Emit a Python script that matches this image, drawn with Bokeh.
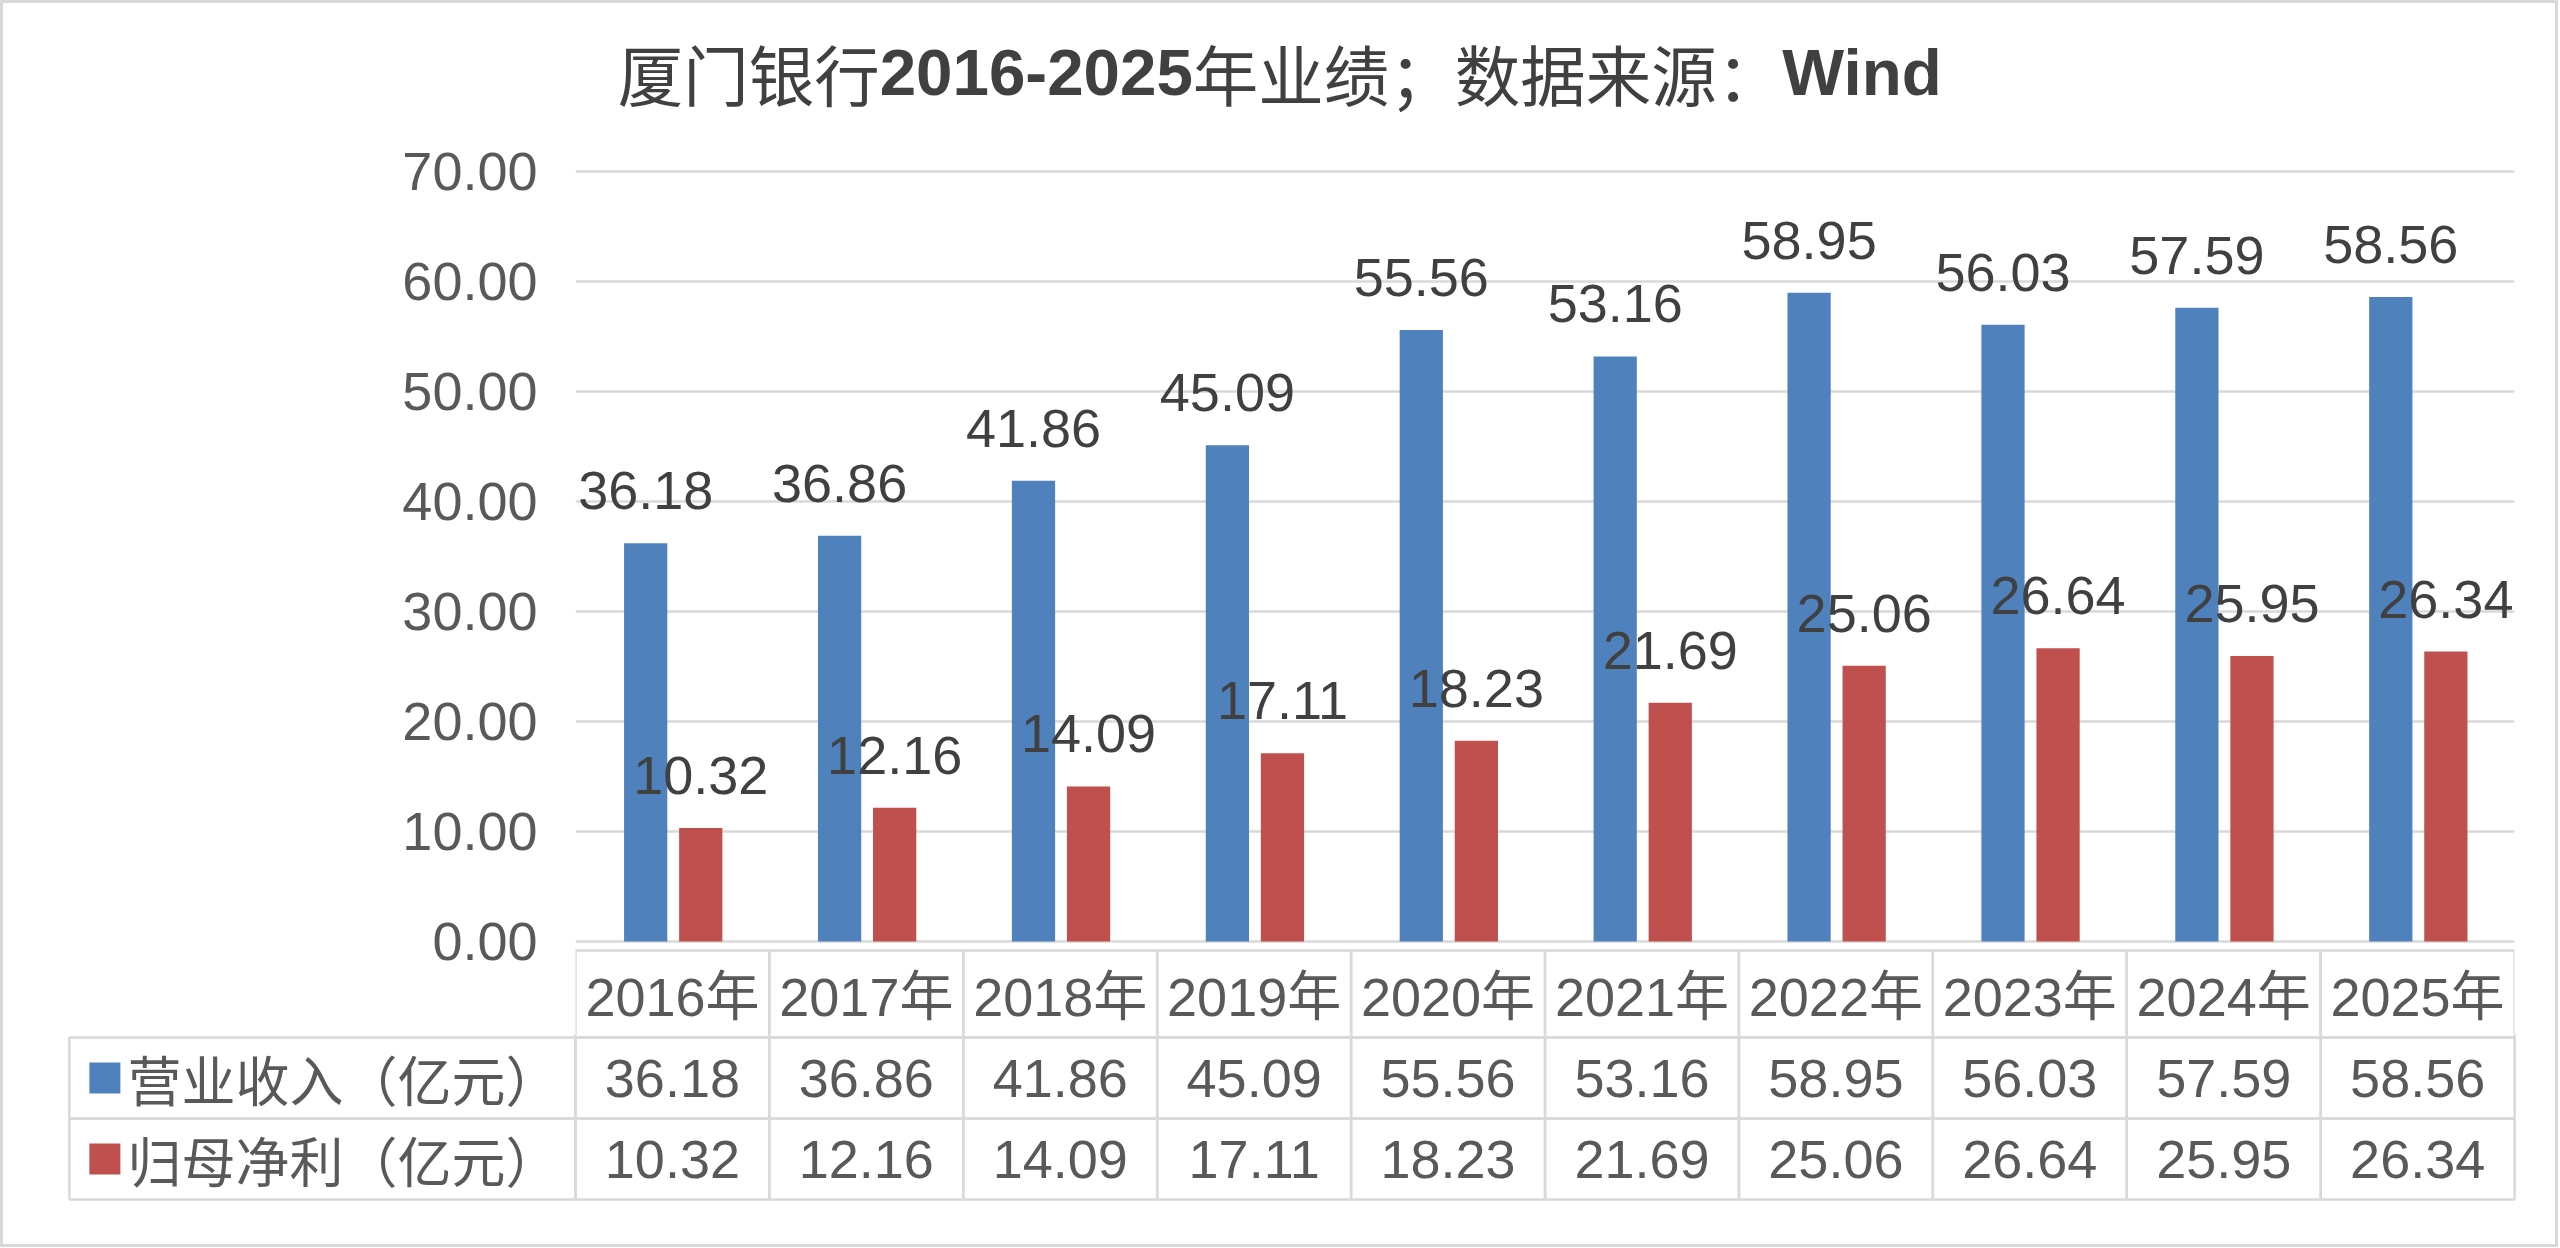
from bokeh.plotting import figure
from bokeh.models import Range1d, FactorRange, FixedTicker, PrintfTickFormatter, Label, ColumnDataSource
from bokeh.layouts import column
from bokeh.embed import file_html
from bokeh.resources import INLINE
from bokeh.core.properties import value
from bokeh.transform import dodge

# ---------------- data ----------------
years = ["2016年", "2017年", "2018年", "2019年", "2020年",
         "2021年", "2022年", "2023年", "2024年", "2025年"]
revenue = [36.18, 36.86, 41.86, 45.09, 55.56, 53.16, 58.95, 56.03, 57.59, 58.56]
profit = [10.32, 12.16, 14.09, 17.11, 18.23, 21.69, 25.06, 26.64, 25.95, 26.34]
series_names = ["营业收入（亿元）", "归母净利（亿元）"]
y_ticks = [0, 10, 20, 30, 40, 50, 60, 70]
title_parts = [("厦门银行", False), ("2016-2025", True), ("年业绩；数据来源：", False), ("Wind", True)]

# ---------------- style ----------------
BLUE = "#4f81bd"
RED = "#c0504d"
GRID = "#d9d9d9"
AXIS_TXT = "#595959"
LABEL_TXT = "#404040"
LATIN = "Liberation Sans, Noto Sans CJK SC"
CJK = "Noto Sans CJK SC"
FS = "54px"
n = len(years)

# layout in reference pixels (figure coords = reference - 3)
OFF = 3
INNER_W, INNER_H = 2552, 1241
FRAME_L, FRAME_R = 575, 2514
FRAME_W = FRAME_R - FRAME_L
PX_PER_CAT = FRAME_W / n
PX_PER_Y = 110.06 / 10
ZERO_Y = 941
A_TOP, A_BOT = 25, 1034
Y1 = (ZERO_Y - A_TOP) / PX_PER_Y
Y0 = -(A_BOT - ZERO_Y) / PX_PER_Y
HDR_TOP, HDR_BOT = 950, 1037


def ref_to_y(py):
    return (ZERO_Y - py) / PX_PER_Y


LBL_GAP = 52.5 / PX_PER_Y
src = ColumnDataSource(dict(
    year=years,
    rev=revenue,
    prof=profit,
    rev_txt=["%.2f" % v for v in revenue],
    prof_txt=["%.2f" % v for v in profit],
    rev_ly=[v + LBL_GAP for v in revenue],
    prof_ly=[v + LBL_GAP for v in profit],
))

pA = figure(x_range=FactorRange(*years), y_range=Range1d(Y0, Y1),
            frame_width=FRAME_W, frame_height=A_BOT - A_TOP,
            min_border_left=FRAME_L - OFF, min_border_right=INNER_W - (FRAME_L - OFF) - FRAME_W,
            min_border_top=A_TOP - OFF, min_border_bottom=0,
            x_axis_location=None, output_backend="svg", toolbar_location=None,
            background_fill_color="white", border_fill_color="white")
pA.outline_line_color = None
pA.xgrid.visible = False
pA.ygrid.ticker = FixedTicker(ticks=y_ticks)
pA.ygrid.grid_line_color = GRID
pA.ygrid.grid_line_width = 2.5

ax = pA.yaxis[0]
ax.ticker = FixedTicker(ticks=y_ticks)
ax.formatter = PrintfTickFormatter(format="%.2f")
ax.axis_line_color = None
ax.major_tick_line_color = None
ax.minor_tick_line_color = None
ax.major_tick_out = 0
ax.major_tick_in = 0
ax.major_label_standoff = 38
ax.major_label_text_font = LATIN
ax.major_label_text_font_size = FS
ax.major_label_text_color = AXIS_TXT

OFF_B, OFF_R, BW = -0.138, 0.146, 0.223
pA.vbar(x=dodge("year", OFF_B, range=pA.x_range), top="rev", bottom=0, width=BW,
        source=src, fill_color=BLUE, line_color=None)
pA.vbar(x=dodge("year", OFF_R, range=pA.x_range), top="prof", bottom=0, width=BW,
        source=src, fill_color=RED, line_color=None)
pA.text(x=dodge("year", OFF_B, range=pA.x_range), y="rev_ly", text="rev_txt", source=src,
        text_align="center", text_baseline="middle", text_font=value(LATIN),
        text_font_size=FS, text_color=LABEL_TXT)
pA.text(x=dodge("year", OFF_R, range=pA.x_range), y="prof_ly", text="prof_txt", source=src,
        text_align="center", text_baseline="middle", text_font=value(LATIN),
        text_font_size=FS, text_color=LABEL_TXT)

# header row of the data table (categories)
hy0, hy1 = ref_to_y(HDR_BOT), ref_to_y(HDR_TOP)
pA.rect(x=years, y=[(hy0 + hy1) / 2] * n, width=1, height=hy1 - hy0,
        fill_color=None, line_color=GRID, line_width=2.5)
pA.text(x=years, y=[ref_to_y(996)] * n, text=years, text_align="center", text_baseline="middle",
        text_font=value(LATIN), text_font_size=FS, text_color=AXIS_TXT)

# title, built from segments (regular CJK, bold Latin), centred on the page
TF = 65.5


def seg_width(s, bold):
    if not bold:
        return len(s) * TF
    w = {"W": 0.944, "i": 0.278, "n": 0.611, "d": 0.611, "-": 0.333}
    return sum(w.get(c, 0.556) for c in s) * TF


total = sum(seg_width(s, b) for s, b in title_parts)
x_px = 1279.5 - FRAME_L - total / 2  # relative to frame left (reference pixels)
title_y = ref_to_y(72)
for s, b in title_parts:
    pA.add_layout(Label(x=x_px / PX_PER_CAT, y=title_y, text=s,
                        text_font=("Liberation Sans" if b else CJK),
                        text_font_style=("bold" if b else "normal"),
                        text_font_size="%spx" % TF, text_color="#404040",
                        text_align="left", text_baseline="middle"))
    x_px += seg_width(s, b)

# ---------------- data table rows ----------------
ROW_H = 81
TBL_L = 69
LABEL_W = (FRAME_L - TBL_L) / PX_PER_CAT
PADX = 0.02
B_BOT = 1203
B_FW = 2453
yb0 = -(B_BOT - 1199) / ROW_H
yb1 = (1199 - A_BOT) / ROW_H
b_left = round(TBL_L - PADX * PX_PER_CAT) - OFF
pB = figure(x_range=Range1d(-LABEL_W - PADX, n + PADX), y_range=Range1d(yb0, yb1),
            frame_width=B_FW, frame_height=B_BOT - A_BOT,
            min_border_left=b_left, min_border_right=INNER_W - b_left - B_FW, min_border_top=0,
            min_border_bottom=INNER_H - (A_BOT - OFF) - (B_BOT - A_BOT),
            x_axis_location=None, y_axis_location=None,
            output_backend="svg", toolbar_location=None,
            background_fill_color="white", border_fill_color="white")
pB.outline_line_color = None
pB.grid.visible = False

left, right, bottom, top = [], [], [], []
for i in range(n):
    left.append(i); right.append(i + 1); bottom.append(2); top.append(2 + 87 / ROW_H)
for r in (1, 0):
    left.append(-LABEL_W); right.append(0); bottom.append(r); top.append(r + 1)
    for i in range(n):
        left.append(i); right.append(i + 1); bottom.append(r); top.append(r + 1)
pB.quad(left=left, right=right, bottom=bottom, top=top, fill_color=None,
        line_color=GRID, line_width=2.5)

cx = [i + 0.5 for i in range(n)]
pB.text(x=cx, y=[1.5] * n, text=["%.2f" % v for v in revenue], text_align="center",
        text_baseline="middle", text_font=value(LATIN), text_font_size=FS, text_color=AXIS_TXT)
pB.text(x=cx, y=[0.5] * n, text=["%.2f" % v for v in profit], text_align="center",
        text_baseline="middle", text_font=value(LATIN), text_font_size=FS, text_color=AXIS_TXT)

sq_x = (104.5 - FRAME_L) / PX_PER_CAT
pB.scatter(x=[sq_x, sq_x], y=[1.5, 0.5], marker="square", size=31,
           fill_color=[BLUE, RED], line_color=None)
pB.text(x=[(127 - FRAME_L) / PX_PER_CAT] * 2, y=[1.5, 0.5], text=series_names,
        text_align="left", text_baseline="middle", text_font=value(CJK),
        text_font_size=FS, text_color=AXIS_TXT)

for p in (pA, pB):
    if "frame_align" in p.properties():
        p.frame_align = False

layout = column(pA, pB, spacing=0,
                styles={"border": "3px solid #d9d9d9", "background-color": "white"})

open("out.html", "w").write(file_html(layout, INLINE))
